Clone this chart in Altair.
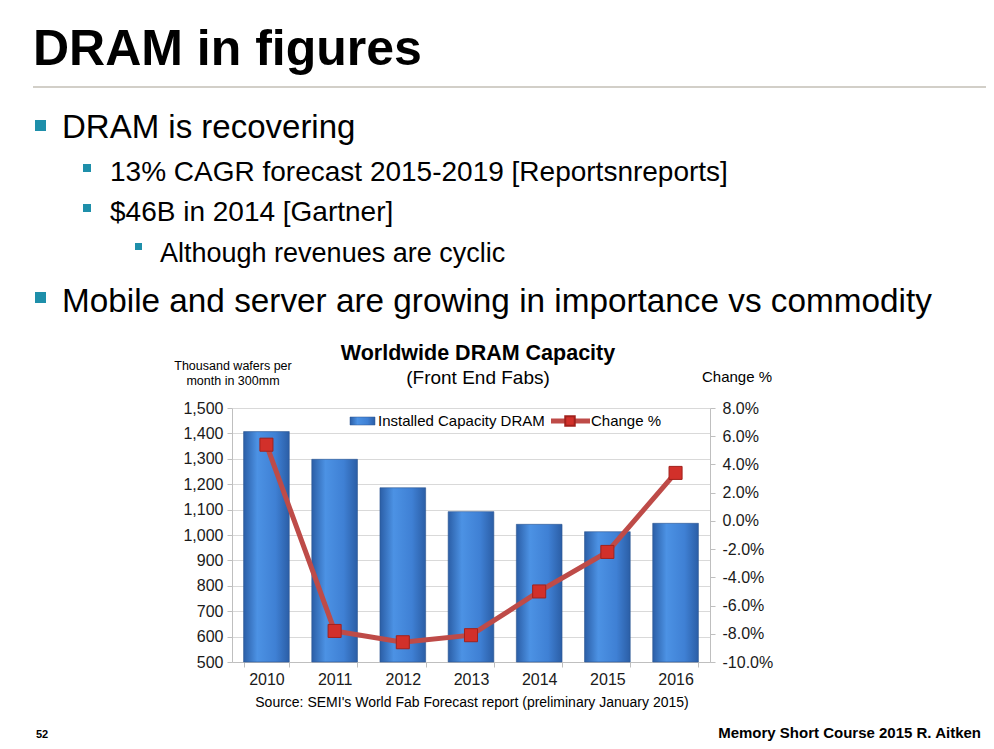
import altair as alt
import pandas as pd

# ---- data ----
years = ["2010", "2011", "2012", "2013", "2014", "2015", "2016"]
capacity = [1407, 1298, 1186, 1092, 1042, 1013, 1046]          # thousand wafers / month (300mm eq.)
change_pct = [5.4, -7.8, -8.6, -8.1, -5.0, -2.2, 3.4]            # Change %
left_ticks = [500, 600, 700, 800, 900, 1000, 1100, 1200, 1300, 1400, 1500]
right_ticks = [-10, -8, -6, -4, -2, 0, 2, 4, 6, 8]

df = pd.DataFrame({
    "year": years,
    "capacity": capacity,
    "change": [c / 100 for c in change_pct],
})

FONT = "Liberation Sans, Arial, sans-serif"
RED_LINE = "#BE4B48"
RED_MARK = "#D2302A"
TEAL = "#1E8FAA"
AXIS_GRAY = "#BFBFBF"

bar_grad = alt.Gradient(
    gradient="linear",
    stops=[
        alt.GradientStop(color="#2B5EA6", offset=0),
        alt.GradientStop(color="#4C92E4", offset=0.3),
        alt.GradientStop(color="#3F80D4", offset=0.7),
        alt.GradientStop(color="#2B5EA6", offset=1),
    ],
    x1=0, x2=1, y1=0, y2=0,
)

x_enc = alt.X(
    "year:N",
    sort=years,
    scale=alt.Scale(paddingInner=0.33, paddingOuter=0.17),
    axis=alt.Axis(
        title=None, labelAngle=0, tickBand="extent", labelFontSize=16,
        labelFont=FONT, labelColor="#1a1a1a", labelPadding=4, tickSize=5,
        domainColor=AXIS_GRAY, tickColor=AXIS_GRAY, grid=False,
    ),
)

base = alt.Chart(df)

bars = base.mark_bar(color=bar_grad, stroke="#2C5690", strokeWidth=0.6).encode(
    x=x_enc,
    y=alt.Y(
        "capacity:Q",
        scale=alt.Scale(domain=[500, 1500], nice=False, zero=False),
        axis=alt.Axis(
            title=None, values=left_ticks,
            labelExpr="format(datum.value, ',.0f')",
            labelFontSize=16, labelFont=FONT, labelColor="#1a1a1a", labelPadding=4,
            tickSize=5, grid=True, gridColor="#D9D9D9",
            domainColor=AXIS_GRAY, tickColor=AXIS_GRAY,
        ),
    ),
    y2=alt.Y2(datum=500),
)

y_right = alt.Y(
    "change:Q",
    scale=alt.Scale(domain=[-0.10, 0.08], nice=False, zero=False),
    axis=alt.Axis(
        orient="right", title=None, values=[t / 100 for t in right_ticks],
        labelExpr="replace(format(datum.value, '.1%'), '\u2212', '-')",
        labelFontSize=16, labelFont=FONT, labelColor="#1a1a1a", labelPadding=7,
        tickSize=5, grid=False, domainColor=AXIS_GRAY, tickColor=AXIS_GRAY,
    ),
)

line = base.mark_line(color=RED_LINE, strokeWidth=5).encode(x="year:N", y=y_right)
points = base.mark_point(shape="square", filled=True, size=170, fill=RED_MARK,
                         stroke="#A2211C", strokeWidth=1, opacity=1).encode(x="year:N", y=y_right)
change_layer = alt.layer(line, points)

blank = alt.Data(values=[{}])


def label(text, x, y, size, weight="normal", align="left", color="black", baseline="alphabetic"):
    return alt.Chart(blank).mark_text(
        text=text, align=align, baseline=baseline, fontSize=size,
        fontWeight=weight, font=FONT, color=color,
    ).encode(x=alt.value(x), y=alt.value(y))


def square(x1, x2, y1, y2, color):
    return alt.Chart(blank).mark_rect(color=color).encode(
        x=alt.value(x1), x2=alt.value(x2), y=alt.value(y1), y2=alt.value(y2))


decor = [
    # slide title and separator
    label("DRAM in figures", -199, -343, 50, weight="bold"),
    alt.Chart(blank).mark_rule(color="#A59F92", strokeWidth=1.2).encode(
        x=alt.value(-199), x2=alt.value(780), y=alt.value(-321)),
    # bullets
    square(-197, -186, -288, -277, TEAL),
    label("DRAM is recovering", -170, -270, 33),
    square(-149, -141, -244, -236, TEAL),
    label("13% CAGR forecast 2015-2019 [Reportsnreports]", -122, -227, 28),
    square(-149, -141, -204, -196, TEAL),
    label("$46B in 2014 [Gartner]", -122, -187, 28),
    square(-97, -90, -165, -158, TEAL),
    label("Although revenues are cyclic", -72, -146, 27),
    square(-197, -186, -116, -105, TEAL),
    label("Mobile and server are growing in importance vs commodity", -170, -96, 33.3),
    # chart titles
    label("Worldwide DRAM Capacity", 246, -48, 21.5, weight="bold", align="center"),
    label("(Front End Fabs)", 246, -24, 19, align="center"),
    label("Thousand wafers per", 1, -38, 12.5, align="center"),
    label("month in 300mm", 1, -23, 12.5, align="center"),
    label("Change %", 505, -26, 15, align="center"),
    # legend
    alt.Chart(blank).mark_rect(color=bar_grad, stroke="#2C5690", strokeWidth=0.5).encode(
        x=alt.value(118), x2=alt.value(143), y=alt.value(9), y2=alt.value(17)),
    label("Installed Capacity DRAM", 146, 13, 15, baseline="middle"),
    alt.Chart(blank).mark_rule(color=RED_LINE, strokeWidth=5).encode(
        x=alt.value(319), x2=alt.value(358), y=alt.value(13)),
    alt.Chart(blank).mark_point(shape="square", filled=True, size=90, fill=RED_MARK,
                                stroke="#A2211C", opacity=1).encode(
        x=alt.value(338), y=alt.value(13)),
    label("Change %", 359, 13, 15, baseline="middle"),
    # source and footer
    label("Source: SEMI's World Fab Forecast report (preliminary January 2015)", 240, 299, 14, align="center"),
    label("52", -196, 330, 11, weight="bold"),
    label("Memory Short Course 2015 R. Aitken", 749, 330, 15, weight="bold", align="right"),
]

chart = alt.layer(bars, change_layer, *decor).resolve_scale(
    y="independent"
).properties(
    width=478,
    height=254,
    autosize=alt.AutoSizeParams(type="none"),
    padding={"left": 224, "top": 400, "right": 276, "bottom": 79},
    background="white",
).configure_view(stroke=None)

chart.save("out.html", embed_options={"renderer": "svg", "actions": False})
